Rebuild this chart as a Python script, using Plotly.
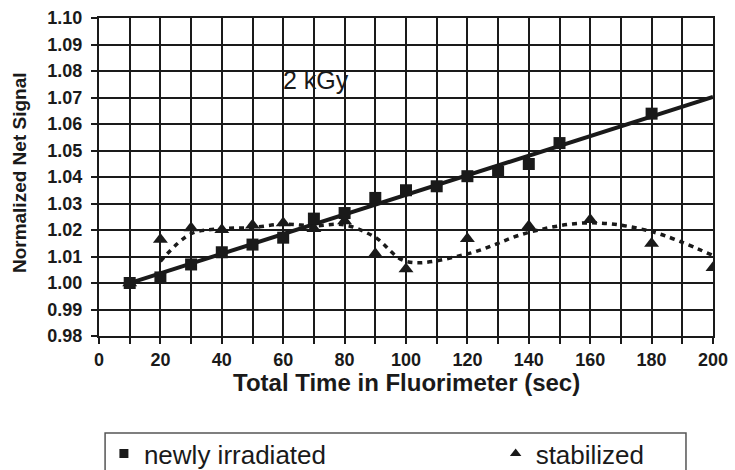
import numpy as np
import plotly.graph_objects as go

# ---- data ----
time_new = [10, 20, 30, 40, 50, 60, 70, 80, 90, 100, 110, 120, 130, 140, 150, 180]
signal_new = [1.0000, 1.0021, 1.0070, 1.0116, 1.0145, 1.0171, 1.0243, 1.0264,
              1.0321, 1.0350, 1.0365, 1.0403, 1.0419, 1.0449, 1.0528, 1.0639]

# first stabilized reading (10 s, normalised to 1.000) is hidden under the square
time_stab = [10, 20, 30, 40, 50, 60, 70, 80, 90, 100, 120, 140, 160, 180, 200]
signal_stab = [1.0000, 1.0164, 1.0208, 1.0201, 1.0218, 1.0226, 1.0205, 1.0234, 1.0110,
               1.0053, 1.0167, 1.0215, 1.0239, 1.0149, 1.0058]

trend_new_range = [10, 200]     # linear trendline extends (forecast) to 200 s
ma_period = 2                   # moving-average trendline for the stabilized series

label_new = "newly irradiated"
label_stab = "stabilized"
dose_label = "2 kGy"
x_title = "Total Time in Fluorimeter (sec)"
y_title = "Normalized Net Signal"

FONT = "Liberation Sans, Arial, sans-serif"
INK = "#1a1a1a"

# ---- trendlines computed from the data ----
lin = np.polyfit(time_new, signal_new, 1)
x_lin = np.array(trend_new_range, dtype=float)
y_lin = np.polyval(lin, x_lin)

ys = np.asarray(signal_stab, dtype=float)
y_ma = np.convolve(ys, np.ones(ma_period) / ma_period, mode="valid")
x_ma = np.asarray(time_stab, dtype=float)[ma_period - 1:]

fig = go.Figure()

fig.add_trace(go.Scatter(x=x_lin, y=y_lin, mode="lines",
                         line=dict(color=INK, width=4), showlegend=False, hoverinfo="skip"))
fig.add_trace(go.Scatter(x=x_ma, y=y_ma, mode="lines",
                         line=dict(color=INK, width=3.5, dash="5px,5px",
                                   shape="spline", smoothing=1.0),
                         showlegend=False, hoverinfo="skip"))
fig.add_trace(go.Scatter(x=time_stab, y=signal_stab, mode="markers",
                         marker=dict(symbol="triangle-up", size=13, color=INK),
                         showlegend=False))
fig.add_trace(go.Scatter(x=time_new, y=signal_new, mode="markers",
                         marker=dict(symbol="square", size=12, color=INK),
                         showlegend=False))

# legend-only entries (small markers like the reference legend)
fig.add_trace(go.Scatter(x=[None], y=[None], mode="markers", name=label_new,
                         marker=dict(symbol="square", size=9, color=INK),
                         legend="legend"))
fig.add_trace(go.Scatter(x=[None], y=[None], mode="markers", name=label_stab,
                         marker=dict(symbol="triangle-up", size=10, color=INK),
                         legend="legend2"))

axis_common = dict(
    showgrid=True, gridcolor=INK, gridwidth=2,
    showline=True, mirror=True, linecolor=INK, linewidth=2,
    ticks="outside", ticklen=6, tickwidth=2, tickcolor=INK,
    zeroline=False,
    tickfont=dict(family=FONT, size=18, color=INK, weight="bold"),
)

fig.update_xaxes(range=[0, 200], tick0=0, dtick=20,
                 minor=dict(dtick=10, showgrid=True, gridcolor=INK, gridwidth=2,
                            ticks="outside", ticklen=6, tickwidth=2, tickcolor=INK),
                 **axis_common)
fig.update_yaxes(range=[0.98, 1.10], tick0=0.98, dtick=0.01, tickformat=".2f",
                 ticklabelstandoff=5, **axis_common)

legend_common = dict(
    orientation="h", bgcolor="rgba(0,0,0,0)", borderwidth=0,
    font=dict(family=FONT, size=26, color=INK),
    xanchor="left", yanchor="middle", itemclick=False, itemdoubleclick=False,
)

fig.update_layout(
    width=735, height=470,
    margin=dict(l=99, r=22, t=18, b=134, autoexpand=False),
    paper_bgcolor="white", plot_bgcolor="white",
    font=dict(family=FONT, color=INK),
    legend=dict(x=0.008, y=-0.370, **legend_common),
    legend2=dict(x=0.646, y=-0.370, **legend_common),
    shapes=[dict(type="rect", xref="paper", yref="paper",
                 x0=0.0099, x1=0.956, y0=-0.305, y1=-0.60,
                 line=dict(color="#555555", width=1.5), fillcolor="rgba(0,0,0,0)")],
    annotations=[
        dict(text=dose_label, x=70.7, y=1.0765, xref="x", yref="y", showarrow=False,
             font=dict(family=FONT, size=25, color=INK)),
        dict(text=x_title, x=0.5, y=-0.145, xref="paper", yref="paper", showarrow=False,
             xanchor="center", yanchor="middle",
             font=dict(family=FONT, size=24, color=INK, weight="bold")),
        dict(text=y_title, x=-0.1285, y=0.5126, xref="paper", yref="paper", showarrow=False,
             textangle=-90, xanchor="center", yanchor="middle",
             font=dict(family=FONT, size=19, color=INK, weight="bold")),
    ],
)

fig.write_html("out.html")
